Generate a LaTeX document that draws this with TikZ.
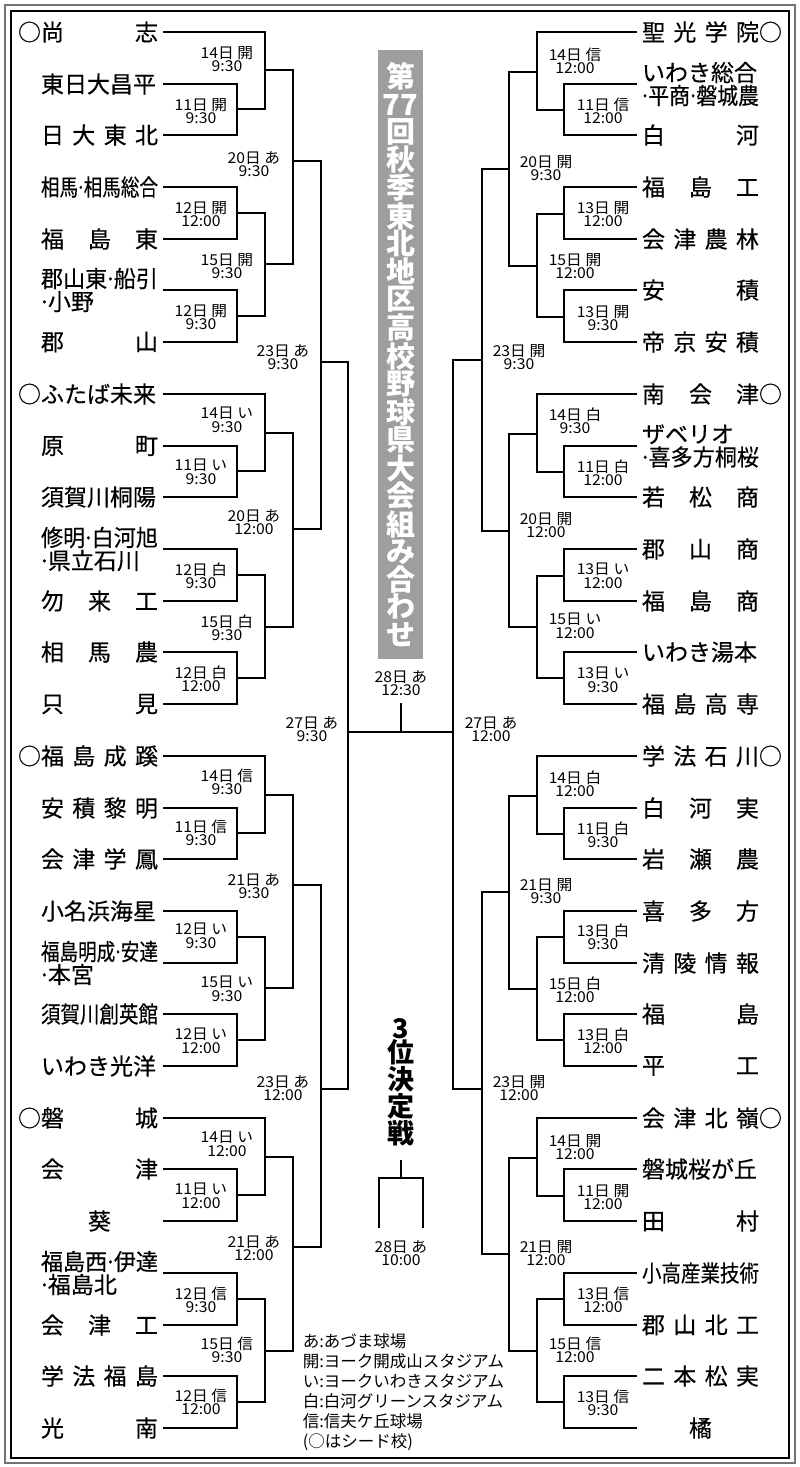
\documentclass[tikz,border=0pt]{standalone}
\usepackage{fontspec}
\setmainfont{Noto Sans CJK JP}
\newfontfamily\teamfam{Noto Sans CJK JP}[FakeBold=0.4]
\newfontfamily\labfam{Noto Sans CJK JP}[FakeStretch=1.05]
\usepackage{graphicx}
\newlength\namew
\newcommand{\fitname}[1]{\settowidth\namew{#1}\ifdim\namew>117pt\resizebox{117pt}{\height}{#1}\else\makebox[117pt][s]{#1}\fi}
\newcommand{\fitline}[1]{\settowidth\namew{#1}\ifdim\namew>117pt\resizebox{117pt}{\height}{#1}\else#1\fi}
\newcommand{\dt}{\makebox[0.3em]{·}}
\newcommand{\teamfont}{\teamfam\fontsize{23}{23}\selectfont}
\newcommand{\labfont}{\labfam\fontsize{15}{13.5}\selectfont}

\begin{document}
\begin{tikzpicture}[x=1pt, y=-1pt, line width=1.5pt,
 lteam/.style={anchor=east, inner xsep=5pt, inner ysep=0pt, outer sep=0pt, align=left, font=\teamfont},
 rteam/.style={anchor=west, inner xsep=5pt, inner ysep=0pt, outer sep=0pt, align=left, font=\teamfont},
 llab/.style={anchor=east, inner sep=0pt, align=center, font=\labfont},
 rlab/.style={anchor=west, inner sep=0pt, align=center, font=\labfont},
 mlab/.style={inner sep=0pt, align=center, font=\labfont}]
 \useasboundingbox (0,0) rectangle (800,1467);
 \draw[black!55, line width=2pt] (5,5) rectangle (795,1463);
 \draw[line width=1.2pt] (11,11) rectangle (789,1458);

 % title and notes
 \node[fill=black!38, text=white, font=\bfseries\fontsize{29}{27.5}\selectfont, align=center, minimum width=45pt, minimum height=609pt, inner sep=0pt] (title) at (400.5,354.5) {第\\77\\回\\秋\\季\\東\\北\\地\\区\\高\\校\\野\\球\\県\\大\\会\\組\\み\\合\\わ\\せ};
 \node[font=\bfseries\fontsize{27}{24.5}\selectfont, align=center, inner sep=0pt] (third) at (401,1082) {3\\位\\決\\定\\戦};
 \node[anchor=north west, inner sep=0pt, align=left, font=\fontsize{16.5}{20}\selectfont] (legend) at (302,1333) {あ:あづま球場\\開:ヨーク開成山スタジアム\\い:ヨークいわきスタジアム\\白:白河グリーンスタジアム\\信:信夫ケ丘球場\\(○はシード校)};

 % left teams
 \node[lteam] (lt0) at (163,32) {○\fitname{尚\hfill 志}};
 \node[lteam] (lt1) at (163,84) {\fitname{東日大昌平}};
 \node[lteam] (lt2) at (163,135) {\fitname{日\hfill 大\hfill 東\hfill 北}};
 \node[lteam] (lt3) at (163,187) {\fitname{相馬\dt 相馬総合}};
 \node[lteam] (lt4) at (163,239) {\fitname{福\hfill 島\hfill 東}};
 \node[lteam] (lt5) at (163,290) {\fitname{郡山東\dt 船引}\\\fitline{\dt 小野}};
 \node[lteam] (lt6) at (163,342) {\fitname{郡\hfill 山}};
 \node[lteam] (lt7) at (163,394) {○\fitname{ふたば未来}};
 \node[lteam] (lt8) at (163,446) {\fitname{原\hfill 町}};
 \node[lteam] (lt9) at (163,497) {\fitname{須賀川桐陽}};
 \node[lteam] (lt10) at (163,549) {\fitname{修明\dt 白河旭}\\\fitline{\dt 県立石川}};
 \node[lteam] (lt11) at (163,601) {\fitname{勿\hfill 来\hfill 工}};
 \node[lteam] (lt12) at (163,652) {\fitname{相\hfill 馬\hfill 農}};
 \node[lteam] (lt13) at (163,704) {\fitname{只\hfill 見}};
 \node[lteam] (lt14) at (163,756) {○\fitname{福\hfill 島\hfill 成\hfill 蹊}};
 \node[lteam] (lt15) at (163,808) {\fitname{安\hfill 積\hfill 黎\hfill 明}};
 \node[lteam] (lt16) at (163,859) {\fitname{会\hfill 津\hfill 学\hfill 鳳}};
 \node[lteam] (lt17) at (163,911) {\fitname{小名浜海星}};
 \node[lteam] (lt18) at (163,963) {\fitname{福島明成\dt 安達}\\\fitline{\dt 本宮}};
 \node[lteam] (lt19) at (163,1014) {\fitname{須賀川創英館}};
 \node[lteam] (lt20) at (163,1066) {\fitname{いわき光洋}};
 \node[lteam] (lt21) at (163,1118) {○\fitname{磐\hfill 城}};
 \node[lteam] (lt22) at (163,1169) {\fitname{会\hfill 津}};
 \node[lteam] (lt23) at (163,1221) {\fitname{\hfill 葵\hfill}};
 \node[lteam] (lt24) at (163,1273) {\fitname{福島西\dt 伊達}\\\fitline{\dt 福島北}};
 \node[lteam] (lt25) at (163,1325) {\fitname{会\hfill 津\hfill 工}};
 \node[lteam] (lt26) at (163,1376) {\fitname{学\hfill 法\hfill 福\hfill 島}};
 \node[lteam] (lt27) at (163,1428) {\fitname{光\hfill 南}};

 % right teams
 \node[rteam] (rt0) at (637,32) {\fitname{聖\hfill 光\hfill 学\hfill 院}○};
 \node[rteam] (rt1) at (637,84) {\fitline{いわき総合}\\\fitname{\dt 平商\dt 磐城農}};
 \node[rteam] (rt2) at (637,135) {\fitname{白\hfill 河}};
 \node[rteam] (rt3) at (637,187) {\fitname{福\hfill 島\hfill 工}};
 \node[rteam] (rt4) at (637,239) {\fitname{会\hfill 津\hfill 農\hfill 林}};
 \node[rteam] (rt5) at (637,290) {\fitname{安\hfill 積}};
 \node[rteam] (rt6) at (637,342) {\fitname{帝\hfill 京\hfill 安\hfill 積}};
 \node[rteam] (rt7) at (637,394) {\fitname{南\hfill 会\hfill 津}○};
 \node[rteam] (rt8) at (637,446) {\fitline{ザベリオ}\\\fitname{\dt 喜多方桐桜}};
 \node[rteam] (rt9) at (637,497) {\fitname{若\hfill 松\hfill 商}};
 \node[rteam] (rt10) at (637,549) {\fitname{郡\hfill 山\hfill 商}};
 \node[rteam] (rt11) at (637,601) {\fitname{福\hfill 島\hfill 商}};
 \node[rteam] (rt12) at (637,652) {\fitname{いわき湯本}};
 \node[rteam] (rt13) at (637,704) {\fitname{福\hfill 島\hfill 高\hfill 専}};
 \node[rteam] (rt14) at (637,756) {\fitname{学\hfill 法\hfill 石\hfill 川}○};
 \node[rteam] (rt15) at (637,808) {\fitname{白\hfill 河\hfill 実}};
 \node[rteam] (rt16) at (637,859) {\fitname{岩\hfill 瀬\hfill 農}};
 \node[rteam] (rt17) at (637,911) {\fitname{喜\hfill 多\hfill 方}};
 \node[rteam] (rt18) at (637,963) {\fitname{清\hfill 陵\hfill 情\hfill 報}};
 \node[rteam] (rt19) at (637,1014) {\fitname{福\hfill 島}};
 \node[rteam] (rt20) at (637,1066) {\fitname{平\hfill 工}};
 \node[rteam] (rt21) at (637,1118) {\fitname{会\hfill 津\hfill 北\hfill 嶺}○};
 \node[rteam] (rt22) at (637,1169) {\fitname{磐城桜が丘}};
 \node[rteam] (rt23) at (637,1221) {\fitname{田\hfill 村}};
 \node[rteam] (rt24) at (637,1273) {\fitname{小高産業技術}};
 \node[rteam] (rt25) at (637,1325) {\fitname{郡\hfill 山\hfill 北\hfill 工}};
 \node[rteam] (rt26) at (637,1376) {\fitname{二\hfill 本\hfill 松\hfill 実}};
 \node[rteam] (rt27) at (637,1428) {\fitname{\hfill 橘\hfill}};

 % left matches
 \path (237,109) coordinate (l1a) (228,111) node[llab] {11日 開\\9:30};
 \path (237,213) coordinate (l1b) (228,214) node[llab] {12日 開\\12:00};
 \path (237,316) coordinate (l1c) (228,317) node[llab] {12日 開\\9:30};
 \path (265,70) coordinate (l1d) (254,59) node[llab] {14日 開\\9:30};
 \path (265,264) coordinate (l1e) (254,266) node[llab] {15日 開\\9:30};
 \path (293,161) coordinate (l1f) (281,164) node[llab] {20日 あ\\9:30};
 \path (237,471) coordinate (l2a) (228,472) node[llab] {11日 い\\9:30};
 \path (237,575) coordinate (l2b) (228,576) node[llab] {12日 白\\9:30};
 \path (237,678) coordinate (l2c) (228,679) node[llab] {12日 白\\12:00};
 \path (265,433) coordinate (l2d) (254,420) node[llab] {14日 い\\9:30};
 \path (265,627) coordinate (l2e) (254,628) node[llab] {15日 白\\9:30};
 \path (293,529) coordinate (l2f) (281,522) node[llab] {20日 あ\\12:00};
 \path (321,362) coordinate (l23a) (310,357) node[llab] {23日 あ\\9:30};
 \path (237,833) coordinate (l3a) (228,833) node[llab] {11日 信\\9:30};
 \path (237,937) coordinate (l3b) (228,936) node[llab] {12日 い\\9:30};
 \path (237,1040) coordinate (l3c) (228,1041) node[llab] {12日 い\\12:00};
 \path (265,795) coordinate (l3d) (254,782) node[llab] {14日 信\\9:30};
 \path (265,988) coordinate (l3e) (254,989) node[llab] {15日 い\\9:30};
 \path (293,885) coordinate (l3f) (281,886) node[llab] {21日 あ\\9:30};
 \path (237,1195) coordinate (l4a) (228,1196) node[llab] {11日 い\\12:00};
 \path (237,1299) coordinate (l4b) (228,1300) node[llab] {12日 信\\9:30};
 \path (237,1402) coordinate (l4c) (228,1402) node[llab] {12日 信\\12:00};
 \path (265,1157) coordinate (l4d) (254,1144) node[llab] {14日 い\\12:00};
 \path (265,1351) coordinate (l4e) (254,1350) node[llab] {15日 信\\9:30};
 \path (293,1247) coordinate (l4f) (281,1248) node[llab] {21日 あ\\12:00};
 \path (321,1089) coordinate (l23b) (310,1088) node[llab] {23日 あ\\12:00};
 \path (348,732) coordinate (l27) (339,729) node[llab] {27日 あ\\9:30};

 % right matches
 \path (564,110) coordinate (r1a) (576,111) node[rlab] {11日 信\\12:00};
 \path (564,214) coordinate (r1b) (576,214) node[rlab] {13日 開\\12:00};
 \path (564,317) coordinate (r1c) (576,318) node[rlab] {13日 開\\9:30};
 \path (537,72) coordinate (r1d) (548,61) node[rlab] {14日 信\\12:00};
 \path (537,266) coordinate (r1e) (548,266) node[rlab] {15日 開\\12:00};
 \path (509,169) coordinate (r1f) (519,168) node[rlab] {20日 開\\9:30};
 \path (564,472) coordinate (r2a) (576,473) node[rlab] {11日 白\\12:00};
 \path (564,576) coordinate (r2b) (576,576) node[rlab] {13日 い\\12:00};
 \path (564,678) coordinate (r2c) (576,680) node[rlab] {13日 い\\9:30};
 \path (537,434) coordinate (r2d) (548,421) node[rlab] {14日 白\\9:30};
 \path (537,627) coordinate (r2e) (548,626) node[rlab] {15日 い\\12:00};
 \path (509,531) coordinate (r2f) (519,525) node[rlab] {20日 開\\12:00};
 \path (482,360) coordinate (r23a) (492,357) node[rlab] {23日 開\\9:30};
 \path (564,834) coordinate (r3a) (576,835) node[rlab] {11日 白\\9:30};
 \path (564,937) coordinate (r3b) (576,937) node[rlab] {13日 白\\9:30};
 \path (564,1040) coordinate (r3c) (576,1041) node[rlab] {13日 白\\12:00};
 \path (537,796) coordinate (r3d) (548,784) node[rlab] {14日 白\\12:00};
 \path (537,989) coordinate (r3e) (548,990) node[rlab] {15日 白\\12:00};
 \path (509,892) coordinate (r3f) (519,891) node[rlab] {21日 開\\9:30};
 \path (564,1196) coordinate (r4a) (576,1197) node[rlab] {11日 開\\12:00};
 \path (564,1299) coordinate (r4b) (576,1300) node[rlab] {13日 信\\12:00};
 \path (564,1402) coordinate (r4c) (576,1403) node[rlab] {13日 信\\9:30};
 \path (537,1158) coordinate (r4d) (548,1147) node[rlab] {14日 開\\12:00};
 \path (537,1351) coordinate (r4e) (548,1350) node[rlab] {15日 信\\12:00};
 \path (509,1254) coordinate (r4f) (519,1253) node[rlab] {21日 開\\12:00};
 \path (482,1089) coordinate (r23b) (492,1088) node[rlab] {23日 開\\12:00};
 \path (453,732) coordinate (r27) (464,729) node[rlab] {27日 あ\\12:00};

 % finals
 \coordinate (fin) at (401,703);
 \node[mlab] (finlab) at (401,683) {28日 あ\\12:30};
 \coordinate (q0) at (401,1160);
 \coordinate (q1) at (401,1178);
 \coordinate (qa) at (379,1228);
 \coordinate (qb) at (423,1228);
 \node[mlab] (qlab) at (401,1253) {28日 あ\\10:00};

 % left bracket
 \draw (lt1.east) -| (l1a) |- (lt2.east);
 \draw (lt3.east) -| (l1b) |- (lt4.east);
 \draw (lt5.east) -| (l1c) |- (lt6.east);
 \draw (lt0.east) -| (l1d) |- (l1a);
 \draw (l1b) -| (l1e) |- (l1c);
 \draw (l1d) -| (l1f) |- (l1e);
 \draw (lt8.east) -| (l2a) |- (lt9.east);
 \draw (lt10.east) -| (l2b) |- (lt11.east);
 \draw (lt12.east) -| (l2c) |- (lt13.east);
 \draw (lt7.east) -| (l2d) |- (l2a);
 \draw (l2b) -| (l2e) |- (l2c);
 \draw (l2d) -| (l2f) |- (l2e);
 \draw (l1f) -| (l23a) |- (l2f);
 \draw (lt15.east) -| (l3a) |- (lt16.east);
 \draw (lt17.east) -| (l3b) |- (lt18.east);
 \draw (lt19.east) -| (l3c) |- (lt20.east);
 \draw (lt14.east) -| (l3d) |- (l3a);
 \draw (l3b) -| (l3e) |- (l3c);
 \draw (l3d) -| (l3f) |- (l3e);
 \draw (lt22.east) -| (l4a) |- (lt23.east);
 \draw (lt24.east) -| (l4b) |- (lt25.east);
 \draw (lt26.east) -| (l4c) |- (lt27.east);
 \draw (lt21.east) -| (l4d) |- (l4a);
 \draw (l4b) -| (l4e) |- (l4c);
 \draw (l4d) -| (l4f) |- (l4e);
 \draw (l3f) -| (l23b) |- (l4f);
 \draw (l23a) -| (l27) |- (l23b);

 % right bracket
 \draw (rt1.west) -| (r1a) |- (rt2.west);
 \draw (rt3.west) -| (r1b) |- (rt4.west);
 \draw (rt5.west) -| (r1c) |- (rt6.west);
 \draw (rt0.west) -| (r1d) |- (r1a);
 \draw (r1b) -| (r1e) |- (r1c);
 \draw (r1d) -| (r1f) |- (r1e);
 \draw (rt8.west) -| (r2a) |- (rt9.west);
 \draw (rt10.west) -| (r2b) |- (rt11.west);
 \draw (rt12.west) -| (r2c) |- (rt13.west);
 \draw (rt7.west) -| (r2d) |- (r2a);
 \draw (r2b) -| (r2e) |- (r2c);
 \draw (r2d) -| (r2f) |- (r2e);
 \draw (r1f) -| (r23a) |- (r2f);
 \draw (rt15.west) -| (r3a) |- (rt16.west);
 \draw (rt17.west) -| (r3b) |- (rt18.west);
 \draw (rt19.west) -| (r3c) |- (rt20.west);
 \draw (rt14.west) -| (r3d) |- (r3a);
 \draw (r3b) -| (r3e) |- (r3c);
 \draw (r3d) -| (r3f) |- (r3e);
 \draw (rt22.west) -| (r4a) |- (rt23.west);
 \draw (rt24.west) -| (r4b) |- (rt25.west);
 \draw (rt26.west) -| (r4c) |- (rt27.west);
 \draw (rt21.west) -| (r4d) |- (r4a);
 \draw (r4b) -| (r4e) |- (r4c);
 \draw (r4d) -| (r4f) |- (r4e);
 \draw (r3f) -| (r23b) |- (r4f);
 \draw (r23a) -| (r27) |- (r23b);

 % final and third place
 \draw (l27) -- (r27);
 \draw (fin) -- (fin |- l27);
 \draw (q0) -- (q1);
 \draw (qa) |- (q1) -| (qb);
\end{tikzpicture}
\end{document}
